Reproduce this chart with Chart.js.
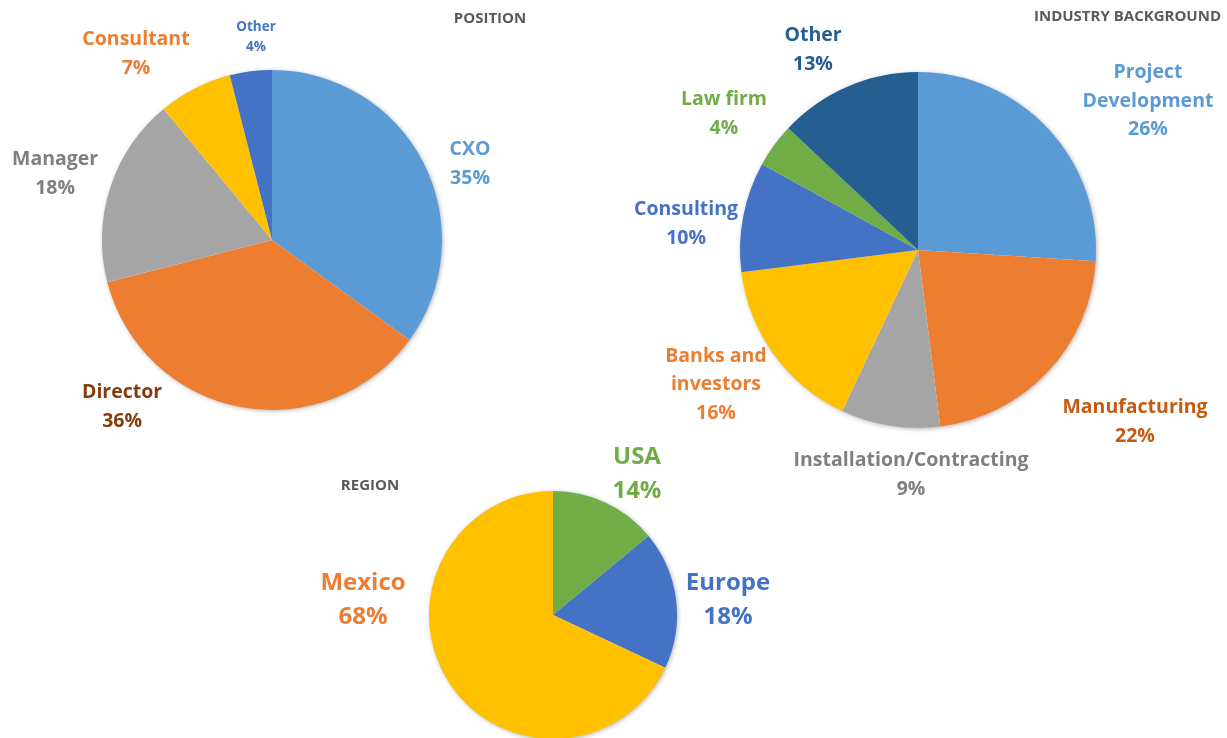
<!DOCTYPE html>
<html>
<head>
<meta charset="utf-8">
<script src="https://cdn.jsdelivr.net/npm/chart.js@4"></script>
<style>
  html, body { margin: 0; padding: 0; background: #fff; overflow: hidden; }
  .box { position: absolute; }
</style>
</head>
<body>
<div class="box" style="left:0;top:0;"><canvas id="positionChart" width="600" height="440"></canvas></div>
<div class="box" style="left:600px;top:0;"><canvas id="industryChart" width="627" height="510"></canvas></div>
<div class="box" style="left:300px;top:440px;"><canvas id="regionChart" width="560" height="300"></canvas></div>
<script>
// --- data (percent of respondents) ---
const positionLabels = ['CXO', 'Director', 'Manager', 'Consultant', 'Other'];
const positionValues = [35, 36, 18, 7, 4];

const industryLabels = [['Project', 'Development'], 'Manufacturing', 'Installation/Contracting',
  ['Banks and', 'investors'], 'Consulting', 'Law firm', 'Other'];
const industryValues = [26, 22, 9, 16, 10, 4, 13];

const regionLabels = ['USA', 'Europe', 'Mexico'];
const regionValues = [14, 18, 68];

// excel office palette
const positionColors = ['#5B9BD5', '#ED7D31', '#A5A5A5', '#FFC000', '#4472C4'];
const positionText = ['#5B9BD5', '#843C0C', '#7F7F7F', '#ED7D31', '#4472C4'];
const industryColors = ['#5B9BD5', '#ED7D31', '#A5A5A5', '#FFC000', '#4472C4', '#70AD47', '#255E91'];
const industryText = ['#5B9BD5', '#C55A11', '#7F7F7F', '#ED7D31', '#4472C4', '#70AD47', '#255E91'];
const regionColors = ['#70AD47', '#4472C4', '#FFC000'];
const regionText = ['#70AD47', '#4472C4', '#ED7D31'];

const FONT = '"Open Sans", Lato, sans-serif';

// shadow under the pie + labels + title
const pieDecor = {
  id: 'pieDecor',
  beforeDatasetsDraw(chart) {
    const arc = chart.getDatasetMeta(0).data[0];
    const ctx = chart.ctx;
    ctx.save();
    ctx.shadowColor = 'rgba(0,0,0,0.35)';
    ctx.shadowBlur = 5;
    ctx.shadowOffsetX = 1;
    ctx.shadowOffsetY = 1;
    ctx.fillStyle = '#fff';
    ctx.beginPath();
    ctx.arc(arc.x, arc.y, arc.outerRadius - 0.5, 0, Math.PI * 2);
    ctx.fill();
    ctx.restore();
  },
  afterDatasetsDraw(chart, args, opts) {
    const meta = chart.getDatasetMeta(0);
    const values = chart.data.datasets[0].data;
    const ctx = chart.ctx;
    ctx.save();
    ctx.textAlign = 'center';
    ctx.textBaseline = 'middle';
    meta.data.forEach((arc, i) => {
      const spot = opts.spots[i];
      const size = spot[2] || opts.size;
      const lh = opts.lineHeight * size;
      const x = arc.x + spot[0] * arc.outerRadius;
      const y = arc.y + spot[1] * arc.outerRadius;
      const lines = [].concat(chart.data.labels[i], values[i] + '%');
      ctx.font = 'bold ' + size + 'px ' + FONT;
      ctx.fillStyle = opts.textColors[i];
      lines.forEach((t, k) => ctx.fillText(t, x, y + (k - (lines.length - 1) / 2) * lh));
    });
    ctx.font = 'bold 15px ' + FONT;
    ctx.fillStyle = '#595959';
    ctx.textAlign = opts.titleAlign;
    ctx.fillText(opts.title, opts.titleX, opts.titleY);
    ctx.restore();
  }
};

function makePie(id, labels, values, colors, padding, decor) {
  return new Chart(document.getElementById(id), {
    type: 'pie',
    data: {
      labels: labels,
      datasets: [{ data: values, backgroundColor: colors, borderWidth: 0, hoverOffset: 0, offset: 0 }]
    },
    options: {
      responsive: false,
      animation: false,
      layout: { padding: padding },
      plugins: { legend: { display: false }, tooltip: { enabled: false }, pieDecor: decor }
    },
    plugins: [pieDecor]
  });
}

makePie('positionChart', positionLabels, positionValues, positionColors,
  { left: 102, top: 70, right: 158, bottom: 30 },
  {
    title: 'POSITION', titleX: 490, titleY: 19, titleAlign: 'center',
    size: 19.5, lineHeight: 1.48, textColors: positionText,
    spots: [[1.165, -0.447], [-0.882, 0.982], [-1.276, -0.388], [-0.8, -1.094], [-0.094, -1.194, 13.5]]
  });

makePie('industryChart', industryLabels, industryValues, industryColors,
  { left: 140, top: 72, right: 131, bottom: 82 },
  {
    title: 'INDUSTRY BACKGROUND', titleX: 621, titleY: 17, titleAlign: 'right',
    size: 19.5, lineHeight: 1.46, textColors: industryText,
    spots: [[1.292, -0.837], [1.219, 0.966], [-0.039, 1.264], [-1.135, 0.758],
      [-1.303, -0.146], [-1.09, -0.764], [-0.59, -1.124]]
  });

makePie('regionChart', regionLabels, regionValues, regionColors,
  { left: 129, top: 51, right: 183, bottom: 1 },
  {
    title: 'REGION', titleX: 70, titleY: 46, titleAlign: 'center',
    size: 24, lineHeight: 1.42, textColors: regionText,
    spots: [[0.677, -1.137], [1.411, -0.121], [-1.532, -0.121]]
  });
</script>
</body>
</html>
